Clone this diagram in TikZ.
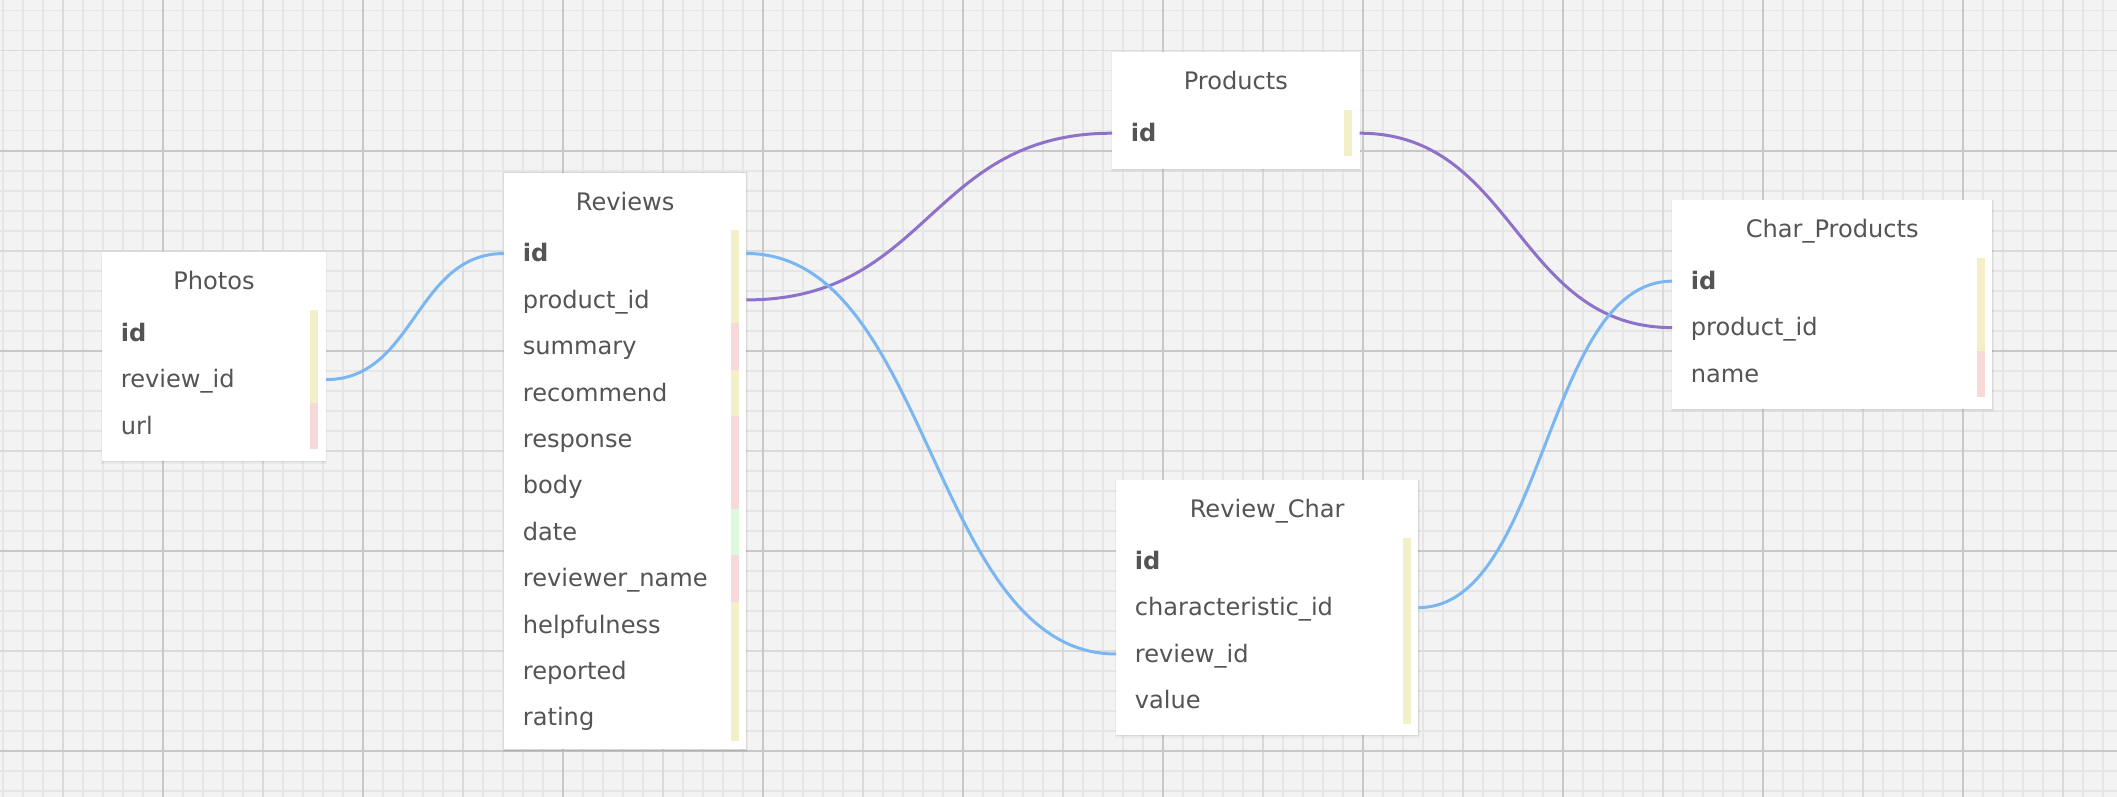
\documentclass[tikz,border=0pt]{standalone}
\usepackage{fontspec}
\setmainfont{DejaVu Sans}
\definecolor{bg}{RGB}{243,243,243}
\definecolor{gminor}{RGB}{230,230,230}
\definecolor{gmid}{RGB}{218,218,218}
\definecolor{gmajor}{RGB}{200,200,200}
\definecolor{txt}{RGB}{84,84,84}
\definecolor{lnblue}{RGB}{122,183,242}
\definecolor{lnpurple}{RGB}{142,114,202}
\definecolor{byel}{RGB}{243,240,200}
\definecolor{bpink}{RGB}{248,216,216}
\definecolor{bgreen}{RGB}{222,250,220}
\newcommand{\erfont}{\fontsize{24.1pt}{29pt}\selectfont}
\newcommand{\fbar}[2]{\fill[#2] ([xshift=-15.7pt]#1.north east) rectangle ([xshift=-7.7pt]#1.south east);}
\newcommand{\boxshadow}[4]{%
  \fill[black,opacity=0.04] (#1-1.5,#2-0.5) rectangle (#1+#3+1.5,#2+#4+3.5);
  \fill[black,opacity=0.07] (#1-0.5,#2) rectangle (#1+#3+0.5,#2+#4+2);
}
\begin{document}
\begin{tikzpicture}[x=1pt,y=-1pt,
  tbox/.style={draw=none, fill=white, anchor=north west, inner sep=0pt},
  ttl/.style={anchor=base, text=txt, font=\erfont, inner sep=0pt},
  fld/.style={anchor=north west, inner xsep=18.7pt, inner ysep=0pt, text height=31.3pt, text depth=14.7pt, align=left, text=txt, font=\erfont},
  rel/.style={line width=3pt},
  gline/.style={line width=1.6pt}]
\useasboundingbox (0,0) rectangle (2117,797);
% background grid
\fill[bg] (0,0) rectangle (2117,797);
\foreach \k in {0,...,105} \draw[gline,gminor] (3+20*\k,0) -- (3+20*\k,797);
\foreach \k in {0,...,39} \draw[gline,gminor] (0,10.7+20*\k) -- (2117,10.7+20*\k);
\foreach \k in {0,...,10} \draw[gline,gmid] (63+200*\k,0) -- (63+200*\k,797);
\foreach \k in {0,...,3} \draw[gline,gmid] (0,50.7+200*\k) -- (2117,50.7+200*\k);
\foreach \k in {0,...,9} \draw[gline,gmajor] (163+200*\k,0) -- (163+200*\k,797);
\foreach \k in {0,...,3} \draw[gline,gmajor] (0,150.7+200*\k) -- (2117,150.7+200*\k);

% Photos
\boxshadow{102}{252}{223.7}{208.3}
\node[tbox, minimum width=223.7pt, minimum height=208.3pt] (photos) at (102,252) {};
\node[ttl] (photos-t) at ([yshift=-37.7pt]photos.north) {Photos};
\node[fld, text width=186.3pt] (ph-id) at ([yshift=-58pt]photos.north west) {\textbf{id}};
\node[fld, text width=186.3pt] (ph-rid) at (ph-id.south west) {review\_id};
\node[fld, text width=186.3pt] (ph-url) at (ph-rid.south west) {url};
\fbar{ph-id}{byel}\fbar{ph-rid}{byel}\fbar{ph-url}{bpink}

% Reviews
\boxshadow{504}{172.3}{242}{576.3}
\node[tbox, minimum width=242pt, minimum height=576.3pt] (reviews) at (504,172.3) {};
\node[ttl] (reviews-t) at ([yshift=-37.7pt]reviews.north) {Reviews};
\node[fld, text width=204.6pt] (rev-id) at ([yshift=-58pt]reviews.north west) {\textbf{id}};
\node[fld, text width=204.6pt] (rev-pid) at (rev-id.south west) {product\_id};
\node[fld, text width=204.6pt] (rev-sum) at (rev-pid.south west) {summary};
\node[fld, text width=204.6pt] (rev-rec) at (rev-sum.south west) {recommend};
\node[fld, text width=204.6pt] (rev-resp) at (rev-rec.south west) {response};
\node[fld, text width=204.6pt] (rev-body) at (rev-resp.south west) {body};
\node[fld, text width=204.6pt] (rev-date) at (rev-body.south west) {date};
\node[fld, text width=204.6pt] (rev-rname) at (rev-date.south west) {reviewer\_name};
\node[fld, text width=204.6pt] (rev-help) at (rev-rname.south west) {helpfulness};
\node[fld, text width=204.6pt] (rev-rep) at (rev-help.south west) {reported};
\node[fld, text width=204.6pt] (rev-rat) at (rev-rep.south west) {rating};
\fbar{rev-id}{byel}\fbar{rev-pid}{byel}\fbar{rev-sum}{bpink}\fbar{rev-rec}{byel}
\fbar{rev-resp}{bpink}\fbar{rev-body}{bpink}\fbar{rev-date}{bgreen}\fbar{rev-rname}{bpink}
\fbar{rev-help}{byel}\fbar{rev-rep}{byel}\fbar{rev-rat}{byel}

% Products
\boxshadow{1112}{52}{247.3}{116.3}
\node[tbox, minimum width=247.3pt, minimum height=116.3pt] (products) at (1112,52) {};
\node[ttl] (products-t) at ([yshift=-37.7pt]products.north) {Products};
\node[fld, text width=209.9pt] (pr-id) at ([yshift=-58pt]products.north west) {\textbf{id}};
\fbar{pr-id}{byel}

% Char_Products
\boxshadow{1672}{200}{320}{208.3}
\node[tbox, minimum width=320pt, minimum height=208.3pt] (charprod) at (1672,200) {};
\node[ttl] (charprod-t) at ([yshift=-37.7pt]charprod.north) {Char\_Products};
\node[fld, text width=282.6pt] (cp-id) at ([yshift=-58pt]charprod.north west) {\textbf{id}};
\node[fld, text width=282.6pt] (cp-pid) at (cp-id.south west) {product\_id};
\node[fld, text width=282.6pt] (cp-name) at (cp-pid.south west) {name};
\fbar{cp-id}{byel}\fbar{cp-pid}{byel}\fbar{cp-name}{bpink}

% Review_Char
\boxshadow{1116}{480}{302}{254.3}
\node[tbox, minimum width=302pt, minimum height=254.3pt] (revchar) at (1116,480) {};
\node[ttl] (revchar-t) at ([yshift=-37.7pt]revchar.north) {Review\_Char};
\node[fld, text width=264.6pt] (rc-id) at ([yshift=-58pt]revchar.north west) {\textbf{id}};
\node[fld, text width=264.6pt] (rc-cid) at (rc-id.south west) {characteristic\_id};
\node[fld, text width=264.6pt] (rc-rid) at (rc-cid.south west) {review\_id};
\node[fld, text width=264.6pt] (rc-val) at (rc-rid.south west) {value};
\fbar{rc-id}{byel}\fbar{rc-cid}{byel}\fbar{rc-rid}{byel}\fbar{rc-val}{byel}

% relations
\draw[rel, lnpurple] (rev-pid.east) .. controls +(183,0) and +(-183,0) .. (pr-id.west);
\draw[rel, lnpurple] (pr-id.east) .. controls +(156,0) and +(-156,0) .. (cp-pid.west);
\draw[rel, lnblue] (ph-rid.east) .. controls +(89,0) and +(-89,0) .. (rev-id.west);
\draw[rel, lnblue] (rev-id.east) .. controls +(185,0) and +(-185,0) .. (rc-rid.west);
\draw[rel, lnblue] (rc-cid.east) .. controls +(127,0) and +(-127,0) .. (cp-id.west);
\end{tikzpicture}
\end{document}
